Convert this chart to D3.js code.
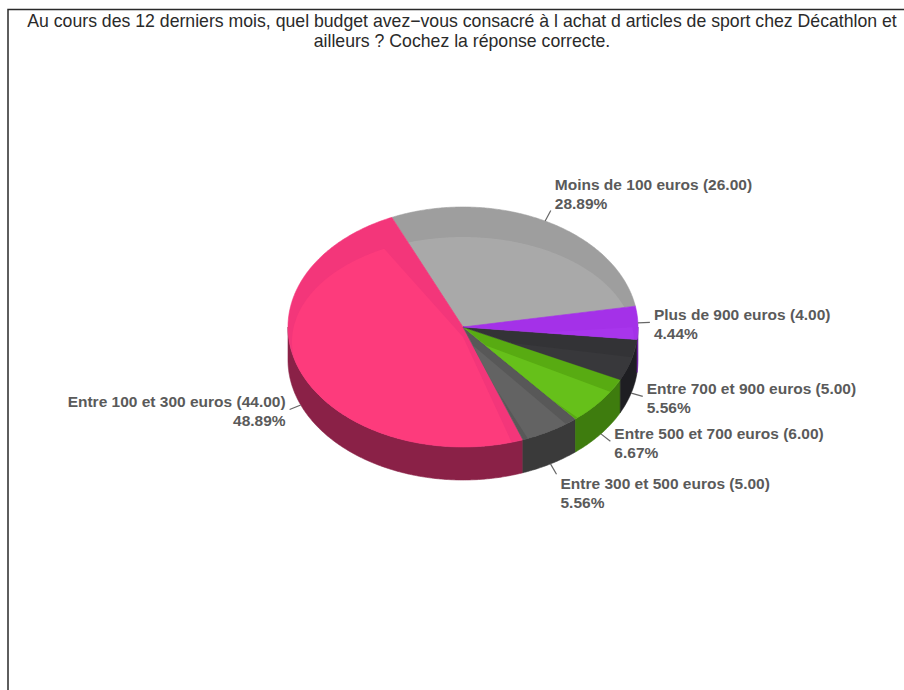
<!DOCTYPE html>
<html>
<head>
<meta charset="utf-8">
<script src="https://cdn.jsdelivr.net/npm/d3@7"></script>
<style>
  html, body { margin: 0; padding: 0; background: #fff; }
  svg { display: block; }
</style>
</head>
<body>
<svg id="chart" width="904" height="690"></svg>
<script>
// Survey answers: budget spent on sports goods over the last 12 months
const titleLines = [
  "Au cours des 12 derniers mois, quel budget avez\u2212vous consacré à l achat d articles de sport chez Décathlon et",
  "ailleurs ? Cochez la réponse correcte."
];
const categories = [
  "Moins de 100 euros",
  "Entre 100 et 300 euros",
  "Entre 300 et 500 euros",
  "Entre 500 et 700 euros",
  "Entre 700 et 900 euros",
  "Plus de 900 euros"
];
const counts = [26, 44, 5, 6, 5, 4];
const topColors   = ["#9e9e9e", "#f3367a", "#585858", "#58ab12", "#333336", "#a431e8"];
const innerColors = ["#a9a9a9", "#fd3b7c", "#636363", "#66c01a", "#38383b", "#a835ec"];
const sideColors  = ["#6e6e6e", "#8a2147", "#3a3a3a", "#3e7c0e", "#1e1e22", "#6d1fa0"];

const svg = d3.select("#chart");
const W = 904, H = 690;

// frame
svg.append("path").attr("d", `M8,${H} L8,9.5 L${W},9.5`)
  .attr("fill", "none").attr("stroke", "#2a2a2a").attr("stroke-width", 1.5);

// title, condensed horizontally to fit the frame
const titleCx = 462, titleWidth = 870;
const titleG = svg.append("g");
const titleText = titleG.selectAll("text").data(titleLines).join("text")
  .attr("x", 0)
  .attr("y", (d, i) => 27 + i * 20)
  .attr("text-anchor", "middle")
  .attr("font-family", "'Liberation Sans', Arial, sans-serif")
  .attr("font-size", 18)
  .attr("fill", "#2a2a2a")
  .text(d => d);
const firstLen = titleText.nodes()[0].getComputedTextLength();
const sx = firstLen > 0 ? titleWidth / firstLen : 1;
titleG.attr("transform", `translate(${titleCx},0) scale(${sx},1)`);

// pie geometry
const cx = 463, cy = 327, rx = 175, ry = 120, depth = 33;
const theta0 = -10 * Math.PI / 180;   // screen angle where the first slice begins

const total = d3.sum(counts);
const pct = d3.format(".2f");
const val = d3.format(".2f");

const arcs = d3.pie().sort(null).startAngle(0).endAngle(2 * Math.PI)(counts);
// slices run counter-clockwise on screen from theta0
const toScreen = a => theta0 - a;

const P = (t, ex = 0, ey = 0, rxx = rx, ryy = ry) => [cx + ex + rxx * Math.cos(t), cy + ey + ryy * Math.sin(t)];

function sampleArc(t1, t2, ex, ey, rxx, ryy) {
  const n = Math.max(2, Math.ceil(Math.abs(t2 - t1) / 0.01));
  return d3.range(n + 1).map(i => P(t1 + (t2 - t1) * i / n, ex, ey, rxx, ryy));
}
const line = d3.line();

const data = arcs.map((a, i) => {
  const tA = toScreen(a.endAngle), tB = toScreen(a.startAngle); // tA < tB
  return { i, tA, tB, tm: (tA + tB) / 2, value: counts[i] };
});

// outer walls (front half only)
const walls = svg.append("g");
data.forEach(d => {
  for (const k of [-1, 0, 1]) {
    const lo = Math.max(d.tA, k * 2 * Math.PI), hi = Math.min(d.tB, k * 2 * Math.PI + Math.PI);
    if (hi <= lo) continue;
    const topPts = sampleArc(lo, hi, 0, 0, rx, ry);
    const botPts = sampleArc(hi, lo, 0, depth, rx, ry);
    walls.append("path")
      .attr("d", line(topPts.concat(botPts)) + "Z")
      .attr("fill", sideColors[d.i])
      .attr("stroke", sideColors[d.i]).attr("stroke-width", 0.6);
  }
});

// top faces
const defs = svg.append("defs");
const faces = svg.append("g");
data.forEach(d => {
  const pts = [[cx, cy]].concat(sampleArc(d.tA, d.tB, 0, 0, rx, ry));
  const dPath = line(pts) + "Z";
  defs.append("clipPath").attr("id", "clip" + d.i).append("path").attr("d", dPath);
  faces.append("path").attr("d", dPath)
    .attr("fill", topColors[d.i]).attr("stroke", topColors[d.i]).attr("stroke-width", 0.6);
  // lighter inner sheen, slightly inset and lowered
  const span = d.tB - d.tA;
  const inset = Math.min(0.06, span * 0.12);
  const inner = [[cx, cy + 10]].concat(sampleArc(d.tA + inset, d.tB - inset, 0, 15, rx - 4, ry - 15));
  faces.append("path").attr("d", line(inner) + "Z")
    .attr("clip-path", `url(#clip${d.i})`)
    .attr("fill", innerColors[d.i]);
});

// labels with leader lines
const labels = svg.append("g")
  .attr("font-family", "'Liberation Sans', Arial, sans-serif")
  .attr("font-size", 15.5)
  .attr("font-weight", "bold")
  .attr("fill", "#5a5a5a");
data.forEach(d => {
  const c = Math.cos(d.tm), s = Math.sin(d.tm);
  const a = P(d.tm, 0, s > 0 ? depth : 0);
  const e = [a[0] + 12 * c, a[1] + 12 * s];
  labels.append("line")
    .attr("x1", a[0]).attr("y1", a[1]).attr("x2", e[0]).attr("y2", e[1])
    .attr("stroke", "#666").attr("stroke-width", 1.2);
  const right = c >= 0;
  let y1;
  if (s < -0.5) y1 = e[1] - 20;
  else if (s > 0.8) y1 = e[1] + 15;
  else y1 = e[1] - 2;
  const tx = right ? e[0] + 4 : e[0] - 4;
  const t = labels.append("text")
    .attr("text-anchor", right ? "start" : "end");
  t.append("tspan").attr("x", tx).attr("y", y1)
    .text(`${categories[d.i]} (${val(d.value)})`);
  t.append("tspan").attr("x", tx).attr("y", y1 + 18.5)
    .text(`${pct(d.value / total * 100)}%`);
});
</script>
</body>
</html>
